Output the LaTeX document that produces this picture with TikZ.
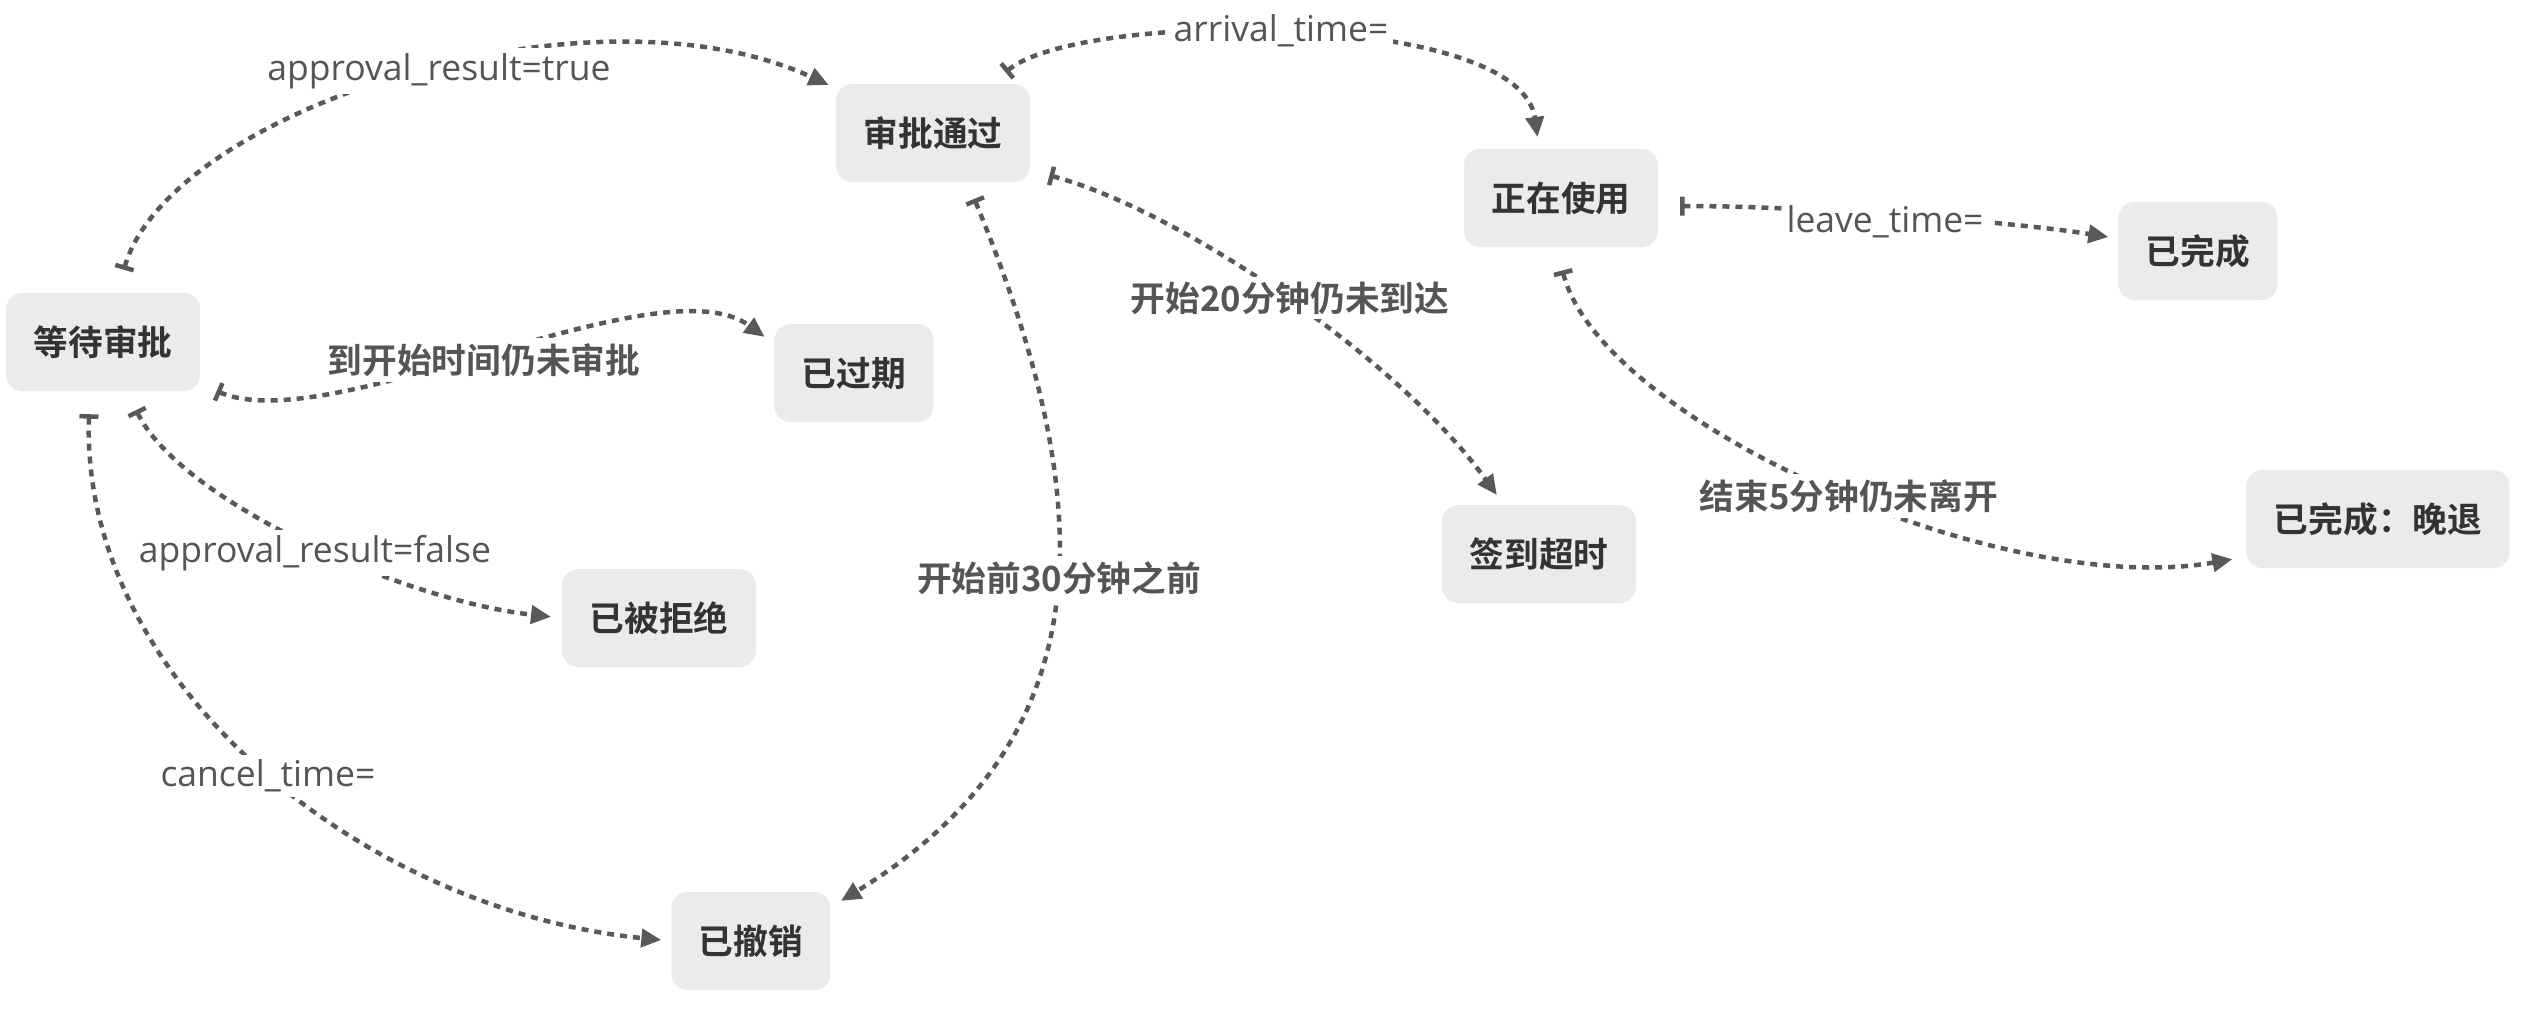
\documentclass[tikz,border=0pt]{standalone}
\usepackage{fontspec}
\setmainfont{Noto Sans CJK SC}[BoldFont={Noto Sans CJK SC Bold}]
\newfontfamily\latinlabel{Open Sans}
\usetikzlibrary{arrows.meta}
\definecolor{statefill}{HTML}{EBEBEB}
\definecolor{statetext}{HTML}{333333}
\definecolor{linkgray}{HTML}{595959}
\definecolor{labelgray}{HTML}{555555}

\begin{document}
\begin{tikzpicture}
	[x=1pt,y=-1pt,
	state/.style={rounded corners=16pt,fill=statefill,text=statetext,inner xsep=27.5pt,minimum height=98pt,font=\bfseries\fontsize{34.7}{40}\selectfont},
	link/.style={draw=linkgray,line width=4.5pt,dash pattern=on 7pt off 6pt,{Bar[width=19pt]}-{Triangle[length=20pt,width=18pt]}},
	cond/.style={fill=white,text=labelgray,inner sep=5pt,font=\bfseries\fontsize{34.7}{40}\selectfont},
	latin/.style={cond,font=\latinlabel\fontsize{35.5}{40}\selectfont}]
	\useasboundingbox (0,0) rectangle (2525,1012);
	
	\node[state] (wait) at (103,342) {等待审批};
	\node[state] (pass) at (933,133) {审批通过};
	\node[state] (expired) at (854,373) {已过期};
	\node[state] (rejected) at (659,618) {已被拒绝};
	\node[state] (cancelled) at (751,941) {已撤销};
	\node[state] (inuse) at (1561,198) {正在使用};
	\node[state] (done) at (2198,251) {已完成};
	\node[state] (timeout) at (1539,554) {签到超时};
	\node[state] (late) at (2378,519) {已完成：晚退};
	
	\draw[link,shorten <=24pt,shorten >=8pt] (wait) .. controls (170,110) and (590,-25) .. (pass);
	\draw[link,shorten <=18pt,shorten >=12pt] (wait) .. controls (330,440) and (660,260) .. (expired.160);
	\draw[link,shorten <=21pt,shorten >=11pt] (wait) .. controls (180,500) and (400,600) .. (rejected.west);
	\draw[link,shorten <=23pt,shorten >=10pt] (wait.-105) .. controls (80,680) and (360,910) .. (cancelled.west);
	\draw[link,shorten <=18pt,shorten >=12pt] (pass.-55) .. controls (1090,480) and (1120,730) .. (cancelled.23);
	\draw[link,shorten <=18pt,shorten >=12pt] (pass) .. controls (1080,10) and (1520,10) .. (inuse.114);
	\draw[link,shorten <=20pt,shorten >=12pt] (pass.-21) .. controls (1180,210) and (1400,360) .. (timeout);
	\draw[link,shorten <=22pt,shorten >=10pt] (inuse.-5) .. controls (1780,205) and (2000,220) .. (done);
	\draw[link,shorten <=24pt,shorten >=14pt] (inuse.-95) .. controls (1600,420) and (2000,600) .. (late.-164);
	
	\node[latin] (approved) at (439,71) {approval\_result=true};
	\node[cond] (notyet) at (484,360) {到开始时间仍未审批};
	\node[latin] (refused) at (315,553) {approval\_result=false};
	\node[latin] (cancel) at (268,776) {cancel\_time=};
	\node[cond] (before) at (1059,578) {开始前30分钟之前};
	\node[latin] (arrive) at (1281,31) {arrival\_time=};
	\node[cond] (noshow) at (1290,298) {开始20分钟仍未到达};
	\node[latin] (leave) at (1885,222) {leave\_time=};
	\node[cond] (overrun) at (1849,496) {结束5分钟仍未离开};
	
\end{tikzpicture}
\end{document}
